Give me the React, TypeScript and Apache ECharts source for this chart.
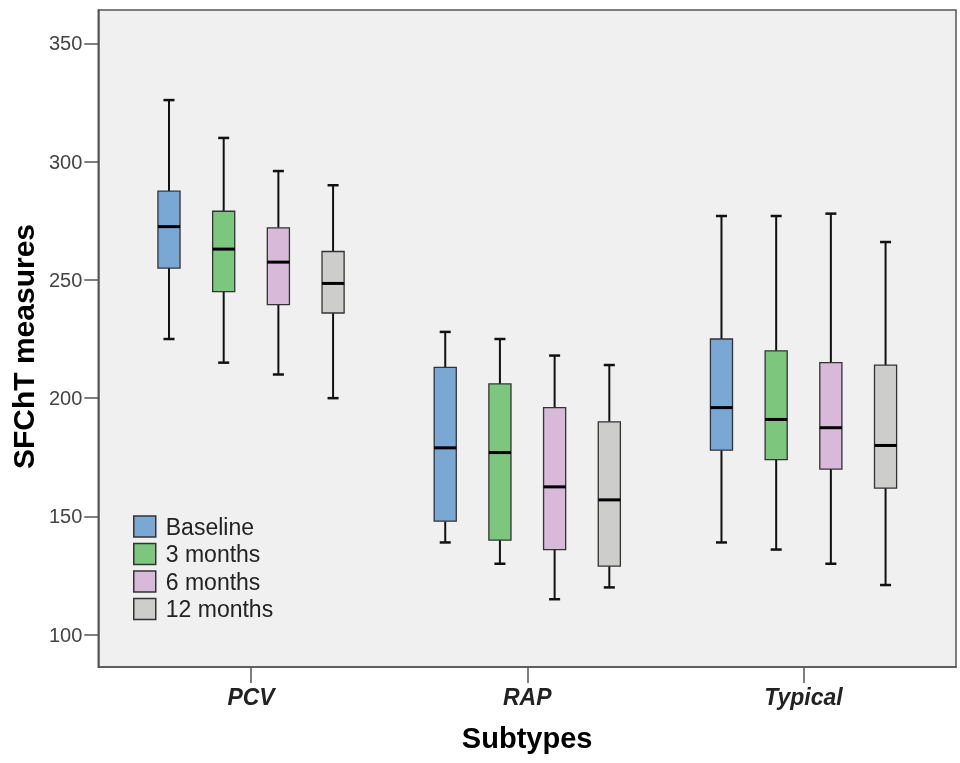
import React, { useEffect, useRef } from "react";
import * as echarts from "echarts";

const categories = ["PCV", "RAP", "Typical"];
const seriesNames = ["Baseline", "3 months", "6 months", "12 months"];
const seriesColors = ["#7aa8d5", "#7dc67e", "#d9b9da", "#cdcdcb"];
const yTicks = [100, 150, 200, 250, 300, 350];
const xTicks = [0, 1, 2];

// [min, q1, median, q3, max] per category
const baseline = [
  [225, 255, 272.5, 287.5, 326],
  [139, 148, 179, 213, 228],
  [139, 178, 196, 225, 277],
];
const months3 = [
  [215, 245, 263, 279, 310],
  [130, 140, 177, 206, 225],
  [136, 174, 191, 220, 277],
];
const months6 = [
  [210, 239.5, 257.5, 272, 296],
  [115, 136, 162.5, 196, 218],
  [130, 170, 187.5, 215, 278],
];
const months12 = [
  [200, 236, 248.5, 262, 290],
  [120, 129, 157, 190, 214],
  [121, 162, 180, 214, 266],
];
const allSeries = [baseline, months3, months6, months12];

const FONT = "'Liberation Sans', Arial, sans-serif";

export default function App() {
  const ref = useRef<HTMLDivElement>(null);
  useEffect(() => {
    if (!ref.current) return;
    const chart = echarts.init(ref.current, null, { renderer: "svg" });
    const renderItem = (params: any, api: any) => {
      const x = api.value(0);
      const lo = api.value(1);
      const q1 = api.value(2);
      const med = api.value(3);
      const q3 = api.value(4);
      const hi = api.value(5);
      const unit = api.size([1, 0])[0];
      const off = (params.seriesIndex - 1.5) * 0.198 * unit;
      const half = 0.04 * unit;
      const cap = half / 2;
      const pLo = api.coord([x, lo]);
      const pQ1 = api.coord([x, q1]);
      const pMed = api.coord([x, med]);
      const pQ3 = api.coord([x, q3]);
      const pHi = api.coord([x, hi]);
      const cx = pLo[0] + off;
      const color = api.visual("color");
      const wStyle = { stroke: "#111", lineWidth: 2 };
      return {
        type: "group",
        children: [
          { type: "line", shape: { x1: cx, y1: pQ3[1], x2: cx, y2: pHi[1] }, style: wStyle },
          { type: "line", shape: { x1: cx, y1: pQ1[1], x2: cx, y2: pLo[1] }, style: wStyle },
          { type: "line", shape: { x1: cx - cap, y1: pHi[1], x2: cx + cap, y2: pHi[1] }, style: { stroke: "#111", lineWidth: 2.5 } },
          { type: "line", shape: { x1: cx - cap, y1: pLo[1], x2: cx + cap, y2: pLo[1] }, style: { stroke: "#111", lineWidth: 2.5 } },
          {
            type: "rect",
            shape: { x: cx - half, y: pQ3[1], width: half * 2, height: pQ1[1] - pQ3[1] },
            style: { fill: color, stroke: "#333", lineWidth: 1.3 },
          },
          { type: "line", shape: { x1: cx - half, y1: pMed[1], x2: cx + half, y2: pMed[1] }, style: { stroke: "#000", lineWidth: 3 } },
        ],
      };
    };

    chart.setOption({
      animation: false,
      grid: {
        left: 97,
        right: 4,
        top: 10,
        bottom: 96,
        show: true,
        backgroundColor: "#f0f0f0",
        borderColor: "#555",
        borderWidth: 1.5,
      },
      legend: {
        orient: "vertical",
        left: 133,
        top: 515,
        padding: 0,
        itemWidth: 22,
        itemHeight: 21,
        itemGap: 4.5,
        icon: "rect",
        data: seriesNames,
        itemStyle: { borderColor: "#333", borderWidth: 1.5 },
        textStyle: { fontSize: 23, color: "#222", fontFamily: FONT, lineHeight: 22, padding: [0, 0, 0, 5] },
      },
      xAxis: {
        type: "value",
        min: -0.553,
        max: 2.552,
        name: "Subtypes",
        nameLocation: "middle",
        nameGap: 56,
        nameTextStyle: { fontSize: 29, fontWeight: "bold", color: "#000", fontFamily: FONT },
        splitLine: { show: false },
        axisLine: { show: true, onZero: false, lineStyle: { color: "#555", width: 1.5 } },
        axisTick: { show: true, length: 16, customValues: xTicks, lineStyle: { color: "#555", width: 1.5 } },
        axisLabel: {
          customValues: xTicks,
          formatter: (v: number) => categories[Math.round(v)] ?? "",
          fontSize: 23,
          fontStyle: "italic",
          fontWeight: "bold",
          color: "#222",
          fontFamily: FONT,
          margin: 18,
        },
      },
      yAxis: {
        type: "value",
        min: 86.35,
        max: 364.08,
        name: "SFChT measures",
        nameLocation: "middle",
        nameGap: 60,
        nameTextStyle: { fontSize: 30, fontWeight: "bold", color: "#000", fontFamily: FONT, padding: [0, 16, 0, 0] },
        splitLine: { show: false },
        axisLine: { show: true, onZero: false, lineStyle: { color: "#555", width: 1.5 } },
        axisTick: { show: true, length: 14, customValues: yTicks, lineStyle: { color: "#555", width: 1.5 } },
        axisLabel: { customValues: yTicks, fontSize: 20, color: "#444", fontFamily: FONT, margin: 16 },
      },
      series: allSeries.map((rows, i) => ({
        type: "custom",
        name: seriesNames[i],
        itemStyle: { color: seriesColors[i] },
        encode: { x: 0, y: [1, 2, 3, 4, 5] },
        renderItem,
        data: rows.map((r, ci) => [ci, ...r]),
      })),
    });
    return () => chart.dispose();
  }, []);
  return <div ref={ref} style={{ position: "fixed", left: 0, top: 0, width: 960, height: 763 }} />;
}
